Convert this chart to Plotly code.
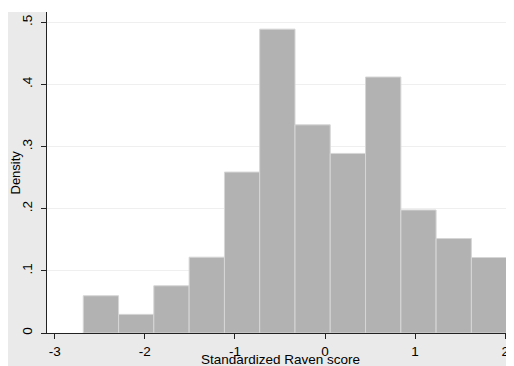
import plotly.graph_objects as go

# Histogram data (density scale)
bin_edges = [-2.683, -2.291, -1.900, -1.508, -1.116, -0.725, -0.333,
             0.058, 0.450, 0.842, 1.233, 1.625, 2.017]
densities = [0.060, 0.030, 0.076, 0.122, 0.259, 0.489, 0.335,
             0.289, 0.412, 0.198, 0.152, 0.1215]

x_ticks = [-3, -2, -1, 0, 1, 2]
x_tick_labels = ["-3", "-2", "-1", "0", "1", "2"]
y_ticks = [0, 0.1, 0.2, 0.3, 0.4, 0.5]
y_tick_labels = ["0", ".1", ".2", ".3", ".4", ".5"]

x_title = "Standardized Raven score"
y_title = "Density"

lefts = bin_edges[:-1]
widths = [b - a for a, b in zip(bin_edges[:-1], bin_edges[1:])]

# the page body adds an 8px white margin on the left and top
W, H = 506, 358
ml, mr, mt, mb = 39, 0, 4, 33
pw, ph = W - ml - mr, H - mt - mb

fig = go.Figure()
fig.add_trace(go.Bar(
    x=lefts, y=densities, width=widths, offset=0,
    marker=dict(color="#B2B2B2", line=dict(color="#D6D6D6", width=1)),
    hoverinfo="skip", showlegend=False,
))

font = dict(family="Liberation Sans, Arial, sans-serif", color="#000000")

fig.update_layout(
    width=W, height=H,
    margin=dict(l=ml, r=mr, t=mt, b=mb, pad=0),
    paper_bgcolor="#EAEAEA",
    plot_bgcolor="#FFFFFF",
    font=dict(**font, size=13),
    xaxis=dict(
        range=[-3.0855, 2.0977],
        tickvals=x_ticks, ticktext=x_tick_labels,
        ticks="outside", ticklen=5, tickwidth=1, tickcolor="#222222",
        showline=True, linecolor="#222222", linewidth=1,
        showgrid=False, zeroline=False,
        tickfont=dict(**font, size=13.5),
        ticklabelstandoff=1,
        automargin=False,
    ),
    yaxis=dict(
        range=[0, 0.5166],
        tickvals=y_ticks, ticktext=y_tick_labels,
        ticks="outside", ticklen=5, tickwidth=1, tickcolor="#222222",
        showline=True, linecolor="#222222", linewidth=1,
        showgrid=True, gridcolor="#EFEFEF", gridwidth=1,
        zeroline=False, tickangle=-90,
        tickfont=dict(**font, size=13.5),
        ticklabelstandoff=4,
        automargin=False,
    ),
    annotations=[
        dict(text=x_title, xref="paper", yref="paper",
             x=0.5, y=-26 / ph, xanchor="center", yanchor="middle",
             showarrow=False, font=dict(**font, size=13.5)),
        dict(text=y_title, xref="paper", yref="paper",
             x=-32 / pw, y=0.5, xanchor="center", yanchor="middle",
             textangle=-90, showarrow=False, font=dict(**font, size=13)),
    ],
    shapes=[
        # white strip at the top above the graph region
        dict(type="rect", xref="paper", yref="paper",
             x0=-ml / pw, x1=1.0, y0=1.0, y1=1 + mt / ph,
             fillcolor="#FFFFFF", line=dict(width=0), layer="below"),
    ],
)

fig.write_html("out.html")
